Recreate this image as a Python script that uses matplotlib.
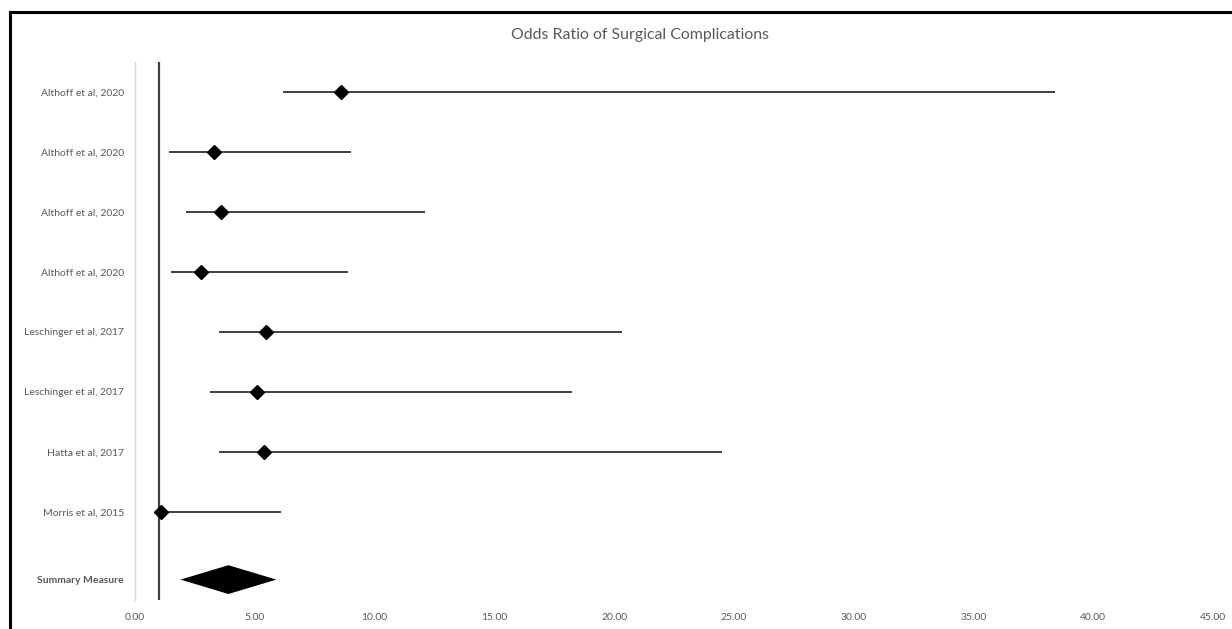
import matplotlib
matplotlib.use("Agg")
import matplotlib.pyplot as plt
from matplotlib.lines import Line2D

plt.rcParams['font.family'] = ['Lato', 'DejaVu Sans']

studies = ["Althoff et al, 2020", "Althoff et al, 2020", "Althoff et al, 2020",
           "Althoff et al, 2020", "Leschinger et al, 2017", "Leschinger et al, 2017",
           "Hatta et al, 2017", "Morris et al, 2015"]
odds_ratio = [8.58, 3.29, 3.57, 2.76, 5.45, 5.10, 5.38, 1.10]
ci_low = [6.16, 1.41, 2.11, 1.52, 3.50, 3.15, 3.50, 1.00]
ci_high = [38.40, 9.00, 12.12, 8.88, 20.35, 18.25, 24.50, 6.10]

summary_label = "Summary Measure"
summary_or = 3.90
summary_low = 1.90
summary_high = 5.90

null_value = 1.0
x_ticks = [0, 5, 10, 15, 20, 25, 30, 35, 40, 45]
title = "Odds Ratio of Surgical Complications"

W, H, DPI = 1232, 629, 100
fig = plt.figure(figsize=(W / DPI, H / DPI), dpi=DPI)
ax = fig.add_axes([135 / W, 1 - 600 / H, (1213 - 135) / W, (600 - 62) / H])

ypos = list(range(1, len(studies) + 1))
summary_y = len(studies) + 1.13
half_h = 0.24

ax.axvline(null_value, color="#404040", lw=1.6, zorder=1)
ax.hlines(ypos, ci_low, ci_high, color="#404040", lw=1.4, zorder=2)
ax.plot(odds_ratio, ypos, linestyle="none", marker="D", markersize=6.8,
        color="black", zorder=3)
ax.fill([summary_low, summary_or, summary_high, summary_or],
        [summary_y, summary_y - half_h, summary_y, summary_y + half_h],
        color="black", zorder=3, lw=0)

ax.set_xlim(0, 45)
ax.set_ylim(summary_y + 0.34, 0.5)
ax.set_xticks(x_ticks)
ax.set_xticklabels([f"{v:.2f}" for v in x_ticks])
ax.set_yticks(ypos + [summary_y])
ax.set_yticklabels(studies + [summary_label])
ax.get_yticklabels()[-1].set_fontweight("bold")
ax.tick_params(axis="both", length=0, labelsize=7.5, labelcolor="#595959")
ax.tick_params(axis="x", pad=9)
ax.tick_params(axis="y", pad=8)
for s in ["top", "right", "bottom"]:
    ax.spines[s].set_visible(False)
ax.spines["left"].set_color("#d9d9d9")
ax.spines["left"].set_linewidth(1.0)

fig.text(640 / W, 1 - 35 / H, title, ha="center", va="center",
         fontsize=11.4, color="#595959")

# outer chart border (top and left edges visible)
fig.add_artist(Line2D([10 / W, 1], [1 - 12 / H, 1 - 12 / H], color="black", lw=2.2,
                      transform=fig.transFigure))
fig.add_artist(Line2D([10 / W, 10 / W], [0, 1 - 12 / H], color="black", lw=2.2,
                      transform=fig.transFigure))

fig.savefig("out.png", dpi=DPI)
